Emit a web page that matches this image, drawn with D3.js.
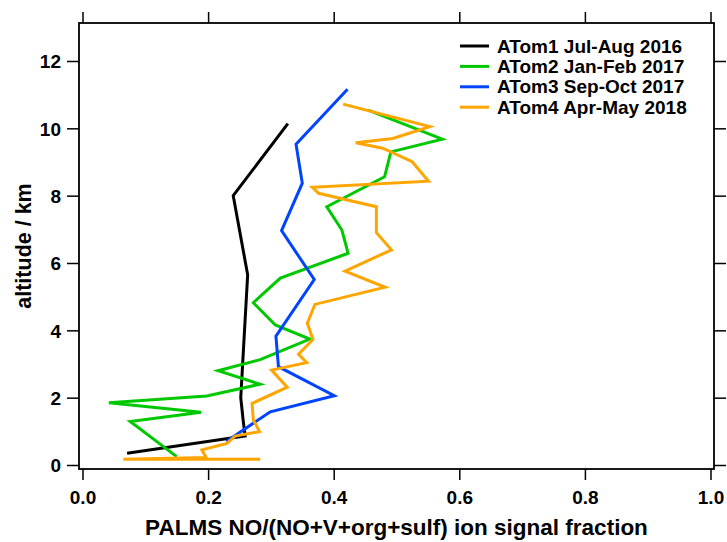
<!DOCTYPE html>
<html>
<head>
<meta charset="utf-8">
<script src="https://cdn.jsdelivr.net/npm/d3@7"></script>
<style>
  body { margin: 0; background: #fff; }
  svg text { font-family: "Liberation Sans", Arial, Helvetica, sans-serif; font-weight: bold; fill: #000; }
</style>
</head>
<body>
<div id="chart"></div>
<script>
// campaign names + colours
const seriesNames = ['ATom1 Jul-Aug 2016', 'ATom2 Jan-Feb 2017', 'ATom3 Sep-Oct 2017', 'ATom4 Apr-May 2018'];
const seriesColors = ['#000000', '#00c800', '#0044ff', '#ffa500'];

// ion signal fraction vs altitude (km)
const atom1Frac = [0.071, 0.259, 0.256, 0.252, 0.255, 0.258, 0.263, 0.240, 0.327];
const atom1Alt  = [0.35, 0.86, 1.3, 2.0, 3.0, 4.0, 5.65, 8.0, 10.14];

const atom2Frac = [0.150, 0.076, 0.189, 0.042, 0.198, 0.283, 0.216, 0.283, 0.362, 0.307, 0.272, 0.315, 0.423, 0.413, 0.389, 0.481, 0.491, 0.573, 0.455];
const atom2Alt  = [0.25, 1.29, 1.57, 1.85, 2.05, 2.40, 2.80, 3.13, 3.74, 4.16, 4.82, 5.55, 6.29, 6.98, 7.67, 8.56, 9.30, 9.68, 10.54];

const atom3Frac = [0.229, 0.299, 0.401, 0.312, 0.308, 0.369, 0.317, 0.350, 0.340, 0.422];
const atom3Alt  = [0.70, 1.58, 2.06, 2.92, 3.83, 5.51, 6.96, 8.37, 9.53, 11.16];

const atom4Frac = [0.283, 0.065, 0.197, 0.190, 0.230, 0.243, 0.282, 0.272, 0.270, 0.326, 0.301, 0.357, 0.344, 0.367, 0.358, 0.370, 0.482, 0.418, 0.492, 0.468, 0.468, 0.376, 0.366, 0.551, 0.525, 0.478, 0.435, 0.494, 0.553, 0.415];
const atom4Alt  = [0.17, 0.17, 0.22, 0.45, 0.64, 0.86, 0.99, 1.34, 1.83, 2.31, 2.82, 3.04, 3.29, 3.73, 4.21, 4.77, 5.28, 5.76, 6.39, 6.90, 7.67, 8.07, 8.25, 8.43, 9.01, 9.41, 9.57, 9.70, 10.05, 10.72];

const xTicks = [0, 0.2, 0.4, 0.6, 0.8, 1.0];
const yTicks = [0, 2, 4, 6, 8, 10, 12];

const fracs = [atom1Frac, atom2Frac, atom3Frac, atom4Frac];
const alts = [atom1Alt, atom2Alt, atom3Alt, atom4Alt];

const width = 727, height = 542;
const frame = { left: 79, right: 714, top: 23, bottom: 469 };

const x = d3.scaleLinear().domain([0, 1]).range([82.5, 710.5]);
const y = d3.scaleLinear().domain([0, 12]).range([465, 61]);

const svg = d3.select('#chart').append('svg')
  .attr('width', width)
  .attr('height', height);

// axes, ticks pointing outward on all four sides
const gB = svg.append('g').attr('transform', `translate(0,${frame.bottom})`)
  .call(d3.axisBottom(x).tickValues(xTicks).tickFormat(d3.format('.1f')).tickSize(11).tickSizeOuter(0));
const gT = svg.append('g').attr('transform', `translate(0,${frame.top})`)
  .call(d3.axisTop(x).tickValues(xTicks).tickFormat('').tickSize(11).tickSizeOuter(0));
const gL = svg.append('g').attr('transform', `translate(${frame.left},0)`)
  .call(d3.axisLeft(y).tickValues(yTicks).tickFormat(d3.format('d')).tickSize(12).tickSizeOuter(0));
const gR = svg.append('g').attr('transform', `translate(${frame.right},0)`)
  .call(d3.axisRight(y).tickValues(yTicks).tickFormat('').tickSize(12).tickSizeOuter(0));

[gB, gT, gL, gR].forEach(g => {
  g.select('.domain').remove();
  g.selectAll('.tick line').attr('stroke', '#000').attr('stroke-width', 1.5);
});

gB.selectAll('.tick text')
  .attr('y', 35).attr('dy', 0)
  .style('font-size', '19px');
gL.selectAll('.tick text')
  .attr('x', -18).attr('dy', '0.36em')
  .style('font-size', '19px');

// box
svg.append('rect')
  .attr('x', frame.left).attr('y', frame.top)
  .attr('width', frame.right - frame.left)
  .attr('height', frame.bottom - frame.top)
  .attr('fill', 'none')
  .attr('stroke', '#000')
  .attr('stroke-width', 1.8);

// profiles
const line = d3.line().x(d => x(d[0])).y(d => y(d[1]));
fracs.forEach((f, i) => {
  const pts = f.map((v, j) => [v, alts[i][j]]);
  svg.append('path')
    .datum(pts)
    .attr('d', line)
    .attr('fill', 'none')
    .attr('stroke', seriesColors[i])
    .attr('stroke-width', 3)
    .attr('stroke-linejoin', 'miter');
});

// legend
const leg = svg.append('g');
seriesNames.forEach((name, i) => {
  const ly = 46 + i * 20.4;
  leg.append('line')
    .attr('x1', 460).attr('x2', 489)
    .attr('y1', ly).attr('y2', ly)
    .attr('stroke', seriesColors[i])
    .attr('stroke-width', 3);
  leg.append('text')
    .attr('x', 497).attr('y', ly + 6.5)
    .style('font-size', '19px')
    .text(name);
});

// axis titles
svg.append('text')
  .attr('x', (frame.left + frame.right) / 2)
  .attr('y', 535)
  .attr('text-anchor', 'middle')
  .style('font-size', '22.5px')
  .text('PALMS NO/(NO+V+org+sulf) ion signal fraction');

svg.append('text')
  .attr('transform', `translate(31,${(frame.top + frame.bottom) / 2}) rotate(-90)`)
  .attr('text-anchor', 'middle')
  .style('font-size', '21.5px')
  .text('altitude / km');
</script>
</body>
</html>
